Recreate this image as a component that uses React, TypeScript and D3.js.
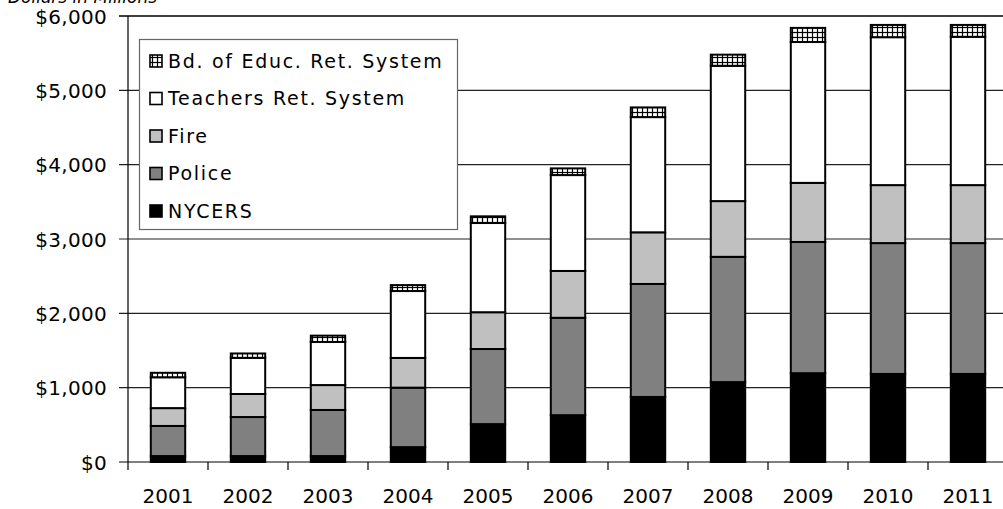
import React from "react";
import * as d3 from "d3";

const years = ["2001","2002","2003","2004","2005","2006","2007","2008","2009","2010","2011"];
const nycers = [80, 80, 80, 200, 510, 630, 875, 1075, 1195, 1185, 1185];
const police = [405, 525, 620, 800, 1010, 1310, 1520, 1685, 1765, 1760, 1760];
const fire = [240, 310, 335, 400, 495, 630, 695, 750, 795, 780, 780];
const teachers = [415, 485, 580, 900, 1200, 1290, 1550, 1820, 1895, 1990, 1995];
const bdEduc = [60, 60, 85, 80, 90, 90, 130, 150, 190, 165, 160];
const yTicks = [0, 1000, 2000, 3000, 4000, 5000, 6000];

const seriesKeys = ["NYCERS", "Police", "Fire", "Teachers Ret. System", "Bd. of Educ. Ret. System"];
const seriesValues = [nycers, police, fire, teachers, bdEduc];
const fills = ["#000000", "#808080", "#c0c0c0", "#ffffff", "url(#hatch)"];
const legendOrder = [4, 3, 2, 1, 0];
const legendLabels = ["NYCERS", "Police", "Fire", "Teachers Ret. System", "Bd. of Educ. Ret. System"];

const W = 1003, H = 509;
const left = 128, top = 16, bottom = 462, rightEnd = 1008;

export default function App() {
  const x = d3.scaleBand<string>().domain(years).range([left, rightEnd]).padding(0);
  const y = d3.scaleLinear().domain([0, 6000]).range([bottom, top]);
  const rows = years.map((yr, i) => {
    const r: any = { year: yr };
    seriesKeys.forEach((k, j) => (r[k] = seriesValues[j][i]));
    return r;
  });
  const stacked = d3.stack<any>().keys(seriesKeys)(rows);
  const bw = x.bandwidth();
  const barW = bw * 0.43;
  const fmt = (v: number) => "$" + d3.format(",")(v);
  const font = "'DejaVu Sans', sans-serif";

  return (
    <svg width={W} height={H} style={{ position: "absolute", left: 0, top: 0, background: "#fff" }}>
      <defs>
        <pattern id="hatch" width="5" height="5" patternUnits="userSpaceOnUse">
          <rect width="5" height="5" fill="#fff" />
          <line x1="2.5" y1="0" x2="2.5" y2="5" stroke="#000" strokeWidth="1.2" />
          <line x1="0" y1="2.5" x2="5" y2="2.5" stroke="#000" strokeWidth="1.2" />
        </pattern>
      </defs>
      <rect width={W} height={H} fill="#fff" />
      <text x={8} y={3} fontFamily={font} fontStyle="italic" fontSize={17} fill="#000">Dollars in Millions</text>
      {/* gridlines */}
      {yTicks.map((t) => (
        <g key={t}>
          <line x1={left - 9} x2={W} y1={y(t)} y2={y(t)} stroke={t === 6000 || t === 0 ? "#000" : "#222"} strokeWidth={t === 6000 ? 1.6 : 1.2} />
          <text x={107} y={y(t)} dy="0.38em" textAnchor="end" fontFamily={font} fontSize={20} letterSpacing={0.3} fill="#000">{fmt(t)}</text>
        </g>
      ))}
      {/* y axis */}
      <line x1={left} x2={left} y1={top} y2={bottom} stroke="#000" strokeWidth={1.2} />
      {/* x ticks */}
      {years.map((yr) => (
        <line key={yr} x1={x(yr)!} x2={x(yr)!} y1={bottom} y2={bottom + 8} stroke="#000" strokeWidth={1.2} />
      ))}
      {years.map((yr) => (
        <text key={yr} x={x(yr)! + bw / 2} y={503} textAnchor="middle" fontFamily={font} fontSize={20} fill="#000">{yr}</text>
      ))}
      {/* bars */}
      {stacked.map((s, j) => (
        <g key={s.key}>
          {s.map((d, i) => (
            <rect
              key={i}
              x={x(years[i])! + (bw - barW) / 2}
              y={y(d[1])}
              width={barW}
              height={y(d[0]) - y(d[1])}
              fill={fills[j]}
              stroke="#000"
              strokeWidth={2}
            />
          ))}
        </g>
      ))}
      {/* legend */}
      <g>
        <rect x={139.5} y={39.5} width={318} height={190} fill="#fff" stroke="#666" strokeWidth={1.2} />
        {legendOrder.map((j, k) => {
          const cy = 61 + k * 37.5;
          return (
            <g key={j}>
              <rect x={150} y={cy - 6} width={12} height={12} fill={fills[j]} stroke="#000" strokeWidth={1.6} />
              <text x={168} y={cy} dy="0.36em" fontFamily={font} fontSize={19} letterSpacing={1.7} fill="#000">{legendLabels[j]}</text>
            </g>
          );
        })}
      </g>
    </svg>
  );
}
